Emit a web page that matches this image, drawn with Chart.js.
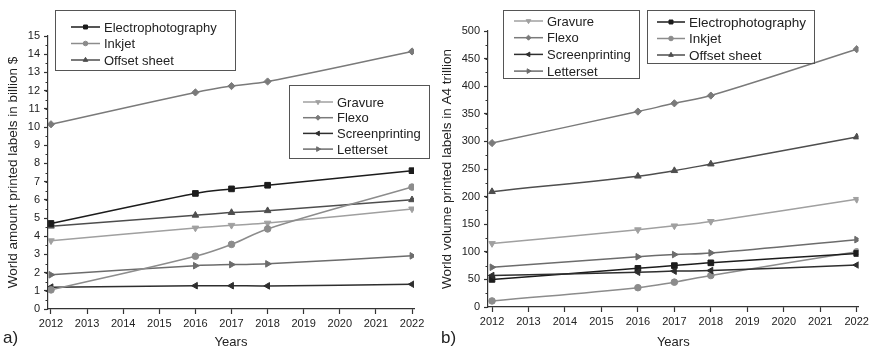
<!DOCTYPE html>
<html>
<head>
<meta charset="utf-8">
<script src="https://cdn.jsdelivr.net/npm/chart.js@4/dist/chart.umd.min.js"></script>
<style>
  html,body{margin:0;padding:0;background:#fff;}
  body{width:872px;height:350px;position:relative;overflow:hidden;font-family:"Liberation Sans",Arial,sans-serif;}
  .pane{position:absolute;top:0;width:436px;height:350px;}
  .tag{position:absolute;font-size:17px;color:#222;font-family:"Liberation Sans",Arial,sans-serif;}
</style>
</head>
<body>
<div class="pane" style="left:0"><canvas id="ca" width="436" height="350"></canvas></div>
<div class="pane" style="left:436px"><canvas id="cb" width="436" height="350"></canvas></div>
<div class="tag" style="left:3px;top:328px">a)</div>
<div class="tag" style="left:441px;top:328px">b)</div>
<script>
// ---------- data ----------
const years = [2012, 2016, 2017, 2018, 2022];
const yearTicks = [2012, 2013, 2014, 2015, 2016, 2017, 2018, 2019, 2020, 2021, 2022];

// a) World amount printed labels in billion $
const amountElectrophotography = [4.7, 6.35, 6.6, 6.8, 7.6];
const amountInkjet            = [1.05, 2.9, 3.55, 4.4, 6.7];
const amountOffsetSheet       = [4.55, 5.15, 5.3, 5.4, 6.0];
const amountGravure           = [3.75, 4.45, 4.6, 4.72, 5.5];
const amountFlexo             = [10.15, 11.9, 12.25, 12.5, 14.15];
const amountScreenprinting    = [1.2, 1.28, 1.28, 1.27, 1.36];
const amountLetterset         = [1.88, 2.38, 2.44, 2.48, 2.92];
const amountTicks = [0,1,2,3,4,5,6,7,8,9,10,11,12,13,14,15];

// b) World volume printed labels in A4 trillion
const volumeElectrophotography = [50, 70, 75, 80, 97];
const volumeInkjet             = [11, 35, 45, 57, 100];
const volumeOffsetSheet        = [209, 237, 247, 259, 308];
const volumeGravure            = [115, 140, 147, 155, 195];
const volumeFlexo              = [297, 354, 369, 383, 467];
const volumeScreenprinting     = [57, 63, 65, 66, 76];
const volumeLetterset          = [72, 91, 95, 98, 122];
const volumeTicks = [0,50,100,150,200,250,300,350,400,450,500];

// ---------- styles ----------
const FONT = '"Liberation Sans", Arial, sans-serif';
const styles = {
  'Electrophotography': {color:'#1c1c1c', pointStyle:'rect', rotation:0, radius:4},
  'Inkjet':             {color:'#8c8c8c', pointStyle:'circle', rotation:0, radius:3.3},
  'Offset sheet':       {color:'#4e4e4e', pointStyle:'triangle', rotation:0, radius:3.8},
  'Gravure':            {color:'#a0a0a0', pointStyle:'triangle', rotation:180, radius:3.8},
  'Flexo':              {color:'#7a7a7a', pointStyle:'rectRot', rotation:0, radius:3.6},
  'Screenprinting':     {color:'#2e2e2e', pointStyle:'triangle', rotation:-90, radius:3.8},
  'Letterset':          {color:'#6c6c6c', pointStyle:'triangle', rotation:90, radius:3.8}
};

function ds(label, values) {
  const s = styles[label];
  return {
    label,
    data: years.map((y, i) => ({x: y, y: values[i]})),
    borderColor: s.color,
    backgroundColor: s.color,
    borderWidth: 1.5,
    pointStyle: s.pointStyle,
    pointRotation: s.rotation,
    pointRadius: s.radius,
    pointBorderWidth: 1,
    tension: 0.4,
    fill: false
  };
}

// legend + minor tick plugin
const decoPlugin = {
  id: 'deco',
  afterDraw(chart) {
    const opts = chart.options.plugins.deco;
    const ctx = chart.ctx;
    ctx.save();
    // minor ticks on y axis
    const ys = chart.scales.y;
    const step = opts.minorStep;
    ctx.strokeStyle = '#333';
    ctx.lineWidth = 1;
    for (let v = ys.min; v <= ys.max + 1e-9; v += step) {
      const p = Math.round(ys.getPixelForValue(v)) + 0.5;
      ctx.beginPath();
      ctx.moveTo(ys.right - 2.5, p);
      ctx.lineTo(ys.right, p);
      ctx.stroke();
    }
    // legends
    opts.legends.forEach(lg => {
      ctx.strokeStyle = '#555';
      ctx.lineWidth = 1;
      ctx.strokeRect(lg.x + 0.5, lg.y + 0.5, lg.w, lg.h);
      ctx.font = lg.fontSize + 'px ' + FONT;
      ctx.textBaseline = 'middle';
      ctx.textAlign = 'left';
      lg.items.forEach((name, i) => {
        const s = styles[name];
        const yy = lg.y + lg.first + i * lg.gap;
        ctx.strokeStyle = s.color;
        ctx.lineWidth = 1.5;
        ctx.beginPath();
        ctx.moveTo(lg.x + lg.lineStart, yy);
        ctx.lineTo(lg.x + lg.lineStart + lg.lineLen, yy);
        ctx.stroke();
        ctx.fillStyle = s.color;
        ctx.strokeStyle = s.color;
        ctx.lineWidth = 1;
        Chart.helpers.drawPoint(ctx, {pointStyle: s.pointStyle, rotation: s.rotation, radius: s.radius * 0.7, borderWidth: 1},
          lg.x + lg.lineStart + lg.lineLen / 2, yy);
        ctx.fillStyle = '#222';
        ctx.fillText(name, lg.x + lg.lineStart + lg.lineLen + 4, yy + 1);
      });
    });
    ctx.restore();
  }
};

function makeChart(id, cfg) {
  return new Chart(document.getElementById(id), {
    type: 'line',
    data: {datasets: cfg.datasets},
    plugins: [decoPlugin],
    options: {
      responsive: false,
      animation: false,
      layout: {padding: {left: 0, right: cfg.padRight, top: cfg.padTop, bottom: 0}},
      plugins: {
        legend: {display: false},
        tooltip: {enabled: false},
        deco: {minorStep: cfg.minorStep, legends: cfg.legends}
      },
      scales: {
        x: {
          type: 'linear',
          min: cfg.xMin, max: cfg.xMax,
          afterBuildTicks: s => { s.ticks = yearTicks.map(v => ({value: v})); },
          afterFit: s => { s.height = cfg.xHeight; },
          grid: {drawOnChartArea: false, drawTicks: true, tickLength: 5, color: '#333', tickWidth: 1.2},
          border: {display: true, color: '#333', width: 1.2},
          ticks: {font: {family: FONT, size: 11}, color: '#222', padding: 3, maxRotation: 0, autoSkip: false,
                  callback: v => String(v)},
          title: {display: true, text: 'Years', font: {family: FONT, size: 13}, color: '#222', padding: {top: 0, bottom: 0}}
        },
        y: {
          min: cfg.yMin, max: cfg.yMax,
          afterBuildTicks: s => { s.ticks = cfg.yTicks.map(v => ({value: v})); },
          afterFit: s => { s.width = cfg.yWidth; },
          grid: {drawOnChartArea: false, drawTicks: true, tickLength: 4, color: '#333', tickWidth: 1.2},
          border: {display: true, color: '#333', width: 1.2},
          ticks: {font: {family: FONT, size: 11}, color: '#222', padding: 4, autoSkip: false},
          title: {display: true, text: cfg.yTitle, font: {family: FONT, size: 13.5}, color: '#222', padding: {top: cfg.yTitlePad, bottom: 0}}
        }
      }
    }
  });
}

makeChart('ca', {
  datasets: [
    ds('Electrophotography', amountElectrophotography),
    ds('Inkjet', amountInkjet),
    ds('Offset sheet', amountOffsetSheet),
    ds('Gravure', amountGravure),
    ds('Flexo', amountFlexo),
    ds('Screenprinting', amountScreenprinting),
    ds('Letterset', amountLetterset)
  ],
  xMin: 2011.917, xMax: 2022.055,
  yMin: 0, yMax: 15, yTicks: amountTicks, minorStep: 0.5,
  padTop: 36, padRight: 22, xHeight: 41, yWidth: 48, yTitlePad: 5,
  yTitle: 'World amount printed labels in billion $',
  legends: [
    {x: 55, y: 10, w: 180, h: 60, first: 17, gap: 16.5, lineStart: 16, lineLen: 29, fontSize: 13,
     items: ['Electrophotography', 'Inkjet', 'Offset sheet']},
    {x: 289, y: 85, w: 140, h: 73, first: 17, gap: 15.7, lineStart: 14, lineLen: 30, fontSize: 13,
     items: ['Gravure', 'Flexo', 'Screenprinting', 'Letterset']}
  ]
});

makeChart('cb', {
  datasets: [
    ds('Gravure', volumeGravure),
    ds('Flexo', volumeFlexo),
    ds('Screenprinting', volumeScreenprinting),
    ds('Letterset', volumeLetterset),
    ds('Electrophotography', volumeElectrophotography),
    ds('Inkjet', volumeInkjet),
    ds('Offset sheet', volumeOffsetSheet)
  ],
  xMin: 2011.89, xMax: 2022.05,
  yMin: 0, yMax: 500, yTicks: volumeTicks, minorStep: 25,
  padTop: 31, padRight: 9, xHeight: 43, yWidth: 52, yTitlePad: 3,
  yTitle: 'World volume printed labels in A4 trillion',
  legends: [
    {x: 67, y: 10, w: 136, h: 68, first: 11, gap: 16.7, lineStart: 11, lineLen: 29, fontSize: 13,
     items: ['Gravure', 'Flexo', 'Screenprinting', 'Letterset']},
    {x: 211, y: 10, w: 167, h: 53, first: 12, gap: 16.5, lineStart: 10, lineLen: 28, fontSize: 13.5,
     items: ['Electrophotography', 'Inkjet', 'Offset sheet']}
  ]
});
</script>
</body>
</html>
